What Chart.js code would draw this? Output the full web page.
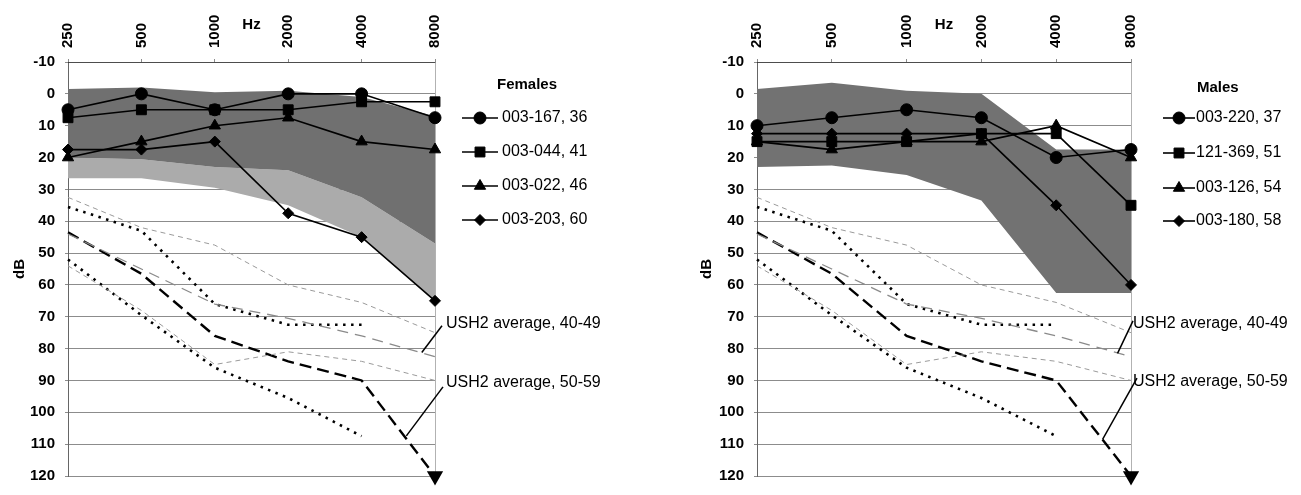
<!DOCTYPE html>
<html><head><meta charset="utf-8">
<script src="https://cdn.jsdelivr.net/npm/chart.js@4/dist/chart.umd.min.js"></script>
<style>
html,body{margin:0;padding:0;background:#fff;}
#wrap{position:relative;width:1301px;height:495px;overflow:hidden;background:#fff;}
canvas{position:absolute;top:0;}
#c1{left:0;}
#c2{left:650px;}
</style></head><body>
<div id="wrap">
<canvas id="c1" width="650" height="495"></canvas>
<canvas id="c2" width="651" height="495"></canvas>
</div>
<script>
const frequencies = ['250','500','1000','2000','4000','8000'];
const dbTicks = [-10,0,10,20,30,40,50,60,70,80,90,100,110,120];

const femaleLabels = ['003-167, 36','003-044, 41','003-022, 46','003-203, 60'];
const female167 = [5,0,5,0,0,7.5];
const female044 = [7.5,5,5,5,2.5,2.5];
const female022 = [20,15,10,7.5,15,17.5];
const female203 = [17.5,17.5,15,37.5,45,65];

const maleLabels = ['003-220, 37','121-369, 51','003-126, 54','003-180, 58'];
const male220 = [10,7.5,5,7.5,20,17.5];
const male369 = [15,15,15,12.5,12.5,35];
const male126 = [15,17.5,15,15,10,20];
const male180 = [12.5,12.5,12.5,12.5,35,60];

const ush4049Mean  = [44,55,66,70.5,76,82.5];
const ush4049Upper = [32.5,42,47.5,60,65.5,75];
const ush4049Lower = [54,68,85,81,84,90];
const ush5059Mean  = [43.5,56.5,76,84,90,120];
const ush5059Upper = [35.5,43,66,72.5,72.5,null];
const ush5059Lower = [52,69.5,86,95.5,107.5,null];

const femaleNormTop    = [-1.5,-2,-0.5,-1,1,7];
const femaleNormMid    = [20,20.5,23,24,32.5,47];
const femaleNormBottom = [26.5,26.5,29.5,35,45,65];
const maleNormTop      = [-1.5,-3.5,-1,0,17.5,17.5];
const maleNormBottom   = [23,22.5,25.5,33.5,62.5,62.5];

const calloutLabels = ['USH2 average, 40-49','USH2 average, 50-59'];

const FONT = '"Liberation Sans", Arial, Helvetica, sans-serif';
const markerStyles = ['circle','rect','triangle','rectRot'];
const markerRadii = [6,7,6.5,5.5];

function patientDatasets(series, names){
  return series.map((d,i)=>({
    label:names[i], data:d, borderColor:'#000', borderWidth:1.6,
    pointStyle:markerStyles[i], pointRadius:markerRadii[i], pointHoverRadius:markerRadii[i],
    pointBackgroundColor:'#000', pointBorderColor:'#000', pointBorderWidth:1,
    fill:false, clip:false
  }));
}
function plain(d, o){
  return Object.assign({data:d, pointRadius:0, pointHoverRadius:0, fill:false, clip:false}, o);
}
function ushDatasets(){
  const thinGrey = {borderColor:'#9a9a9a', borderWidth:1, borderDash:[5,4]};
  const dotted = {borderColor:'#000', borderWidth:2.6, borderDash:[2.5,5.5]};
  return [
    plain(ush4049Upper, thinGrey),
    plain(ush4049Mean, {borderColor:'#8a8a8a', borderWidth:1.3, borderDash:[11,7]}),
    plain(ush4049Lower, thinGrey),
    plain(ush5059Upper, dotted),
    plain(ush5059Mean, {borderColor:'#000', borderWidth:2.4, borderDash:[12,6],
      pointStyle:'triangle', pointRotation:180, pointRadius:[0,0,0,0,0,7],
      pointHoverRadius:0, pointBackgroundColor:'#000', pointBorderColor:'#000'}),
    plain(ush5059Lower, dotted)
  ];
}
function bandDatasets(edges, colors, startIndex){
  return edges.map((d,i)=>({
    data:d, borderColor:'rgba(0,0,0,0)', borderWidth:0, pointRadius:0, pointHoverRadius:0,
    fill: i===0 ? false : startIndex + i - 1,
    backgroundColor: i===0 ? 'rgba(0,0,0,0)' : colors[i-1]
  }));
}

const decor = {
  id:'decor',
  afterDraw(chart, args, o){
    const ctx = chart.ctx, xs = chart.scales.x, ys = chart.scales.y;
    const R = chart.chartArea.right;
    ctx.save();
    ctx.fillStyle = '#000';
    ctx.textBaseline = 'middle';
    ctx.font = 'bold 15px ' + FONT;
    ctx.textAlign = 'center';
    ctx.fillText('Hz', (xs.left + xs.right)/2, o.hzY);
    ctx.textAlign = 'left';
    ctx.fillText(o.title, R + o.titleDx, o.titleY);
    ctx.font = '16px ' + FONT;
    for (let i=0;i<4;i++){
      const ds = chart.data.datasets[i];
      const yy = o.rowY[i];
      ctx.strokeStyle = '#000'; ctx.lineWidth = 1.6; ctx.setLineDash([]);
      ctx.beginPath(); ctx.moveTo(R + o.lx0, yy); ctx.lineTo(R + o.lx1, yy); ctx.stroke();
      ctx.fillStyle = '#000'; ctx.lineWidth = 1;
      Chart.helpers.drawPoint(ctx, {pointStyle: ds.pointStyle, radius: ds.pointRadius, rotation:0, borderWidth:1},
        R + (o.lx0 + o.lx1)/2, yy);
      ctx.fillText(ds.label, R + o.tx, yy);
    }
    o.callouts.forEach((c, i)=>{
      ctx.fillStyle = '#000';
      ctx.fillText(calloutLabels[i], R + c.textDx, ys.getPixelForValue(c.textDb));
      ctx.strokeStyle = '#000'; ctx.lineWidth = 1.5;
      ctx.beginPath();
      ctx.moveTo(R + c.fromDx, ys.getPixelForValue(c.fromDb));
      ctx.lineTo(xs.getPixelForValue(c.toIdx), ys.getPixelForValue(c.toDb));
      ctx.stroke();
    });
    ctx.restore();
  }
};

function build(id, patients, names, bands, bandColors, cfg){
  const datasets = patientDatasets(patients, names).concat(ushDatasets());
  const start = datasets.length;
  const all = datasets.concat(bandDatasets(bands, bandColors, start));
  return new Chart(document.getElementById(id), {
    type:'line',
    data:{labels:frequencies, datasets:all},
    plugins:[decor],
    options:{
      responsive:false, animation:false, events:[],
      layout:{padding:{left:0, top:0, right:cfg.padRight, bottom:13}},
      plugins:{legend:{display:false}, tooltip:{enabled:false}, decor:cfg.decor},
      elements:{line:{tension:0}},
      scales:{
        x:{
          type:'category', position:'top', offset:false,
          afterFit:s=>{ s.height = 62; },
          grid:{
            color:c=> c.index === frequencies.length-1 ? 'rgba(0,0,0,0.3)' : 'rgba(0,0,0,0)',
            tickColor:'rgba(0,0,0,0.45)', tickLength:3, drawTicks:true, lineWidth:1
          },
          border:{display:true, color:'rgba(0,0,0,0.45)', width:1},
          ticks:{color:'#000', font:{family:FONT, size:15, weight:'bold'}, minRotation:90, maxRotation:90,
                 padding:11, autoSkip:false, labelOffset:18}
        },
        y:{
          type:'linear', reverse:true, min:-10, max:120, z:1,
          afterFit:s=>{ s.width = cfg.yWidth; },
          afterBuildTicks:s=>{ s.ticks = dbTicks.map(v=>({value:v})); },
          grid:{color:'rgba(0,0,0,0.45)', lineWidth:1, tickLength:3, tickColor:'rgba(0,0,0,0.45)'},
          border:{display:true, color:'rgba(0,0,0,0.6)', width:1},
          title:{display:true, text:'dB', color:'#000', font:{family:FONT, size:15, weight:'bold'}, padding:{top:cfg.titlePad, bottom:0}},
          ticks:{color:'#000', font:{family:FONT, size:15, weight:'bold'}, padding:10}
        }
      }
    }
  });
}

build('c1', [female167, female044, female022, female203], femaleLabels,
  [femaleNormTop, femaleNormMid, femaleNormBottom], ['#707070','#ababab'],
  {padRight:215, yWidth:68, titlePad:11, decor:{
    hzY:25, title:'Females', titleDx:62, titleY:85,
    rowY:[118,152,186,220], lx0:27, lx1:63, tx:67,
    callouts:[
      {textDx:11, textDb:72.2, fromDx:7, fromDb:72.8, toIdx:4.82, toDb:81.2},
      {textDx:11, textDb:90.8, fromDx:8, fromDb:92, toIdx:4.61, toDb:107.4}
    ]}});

build('c2', [male220, male369, male126, male180], maleLabels,
  [maleNormTop, maleNormBottom], ['#727272'],
  {padRight:170, yWidth:107, titlePad:48, decor:{
    hzY:25, title:'Males', titleDx:66, titleY:88,
    rowY:[118,153,188,221], lx0:32, lx1:64, tx:65,
    callouts:[
      {textDx:2, textDb:72.2, fromDx:2, fromDb:71.3, toIdx:4.82, toDb:81.5},
      {textDx:2, textDb:90.5, fromDx:6, fromDb:89.3, toIdx:4.62, toDb:108.5}
    ]}});
</script>
</body></html>
